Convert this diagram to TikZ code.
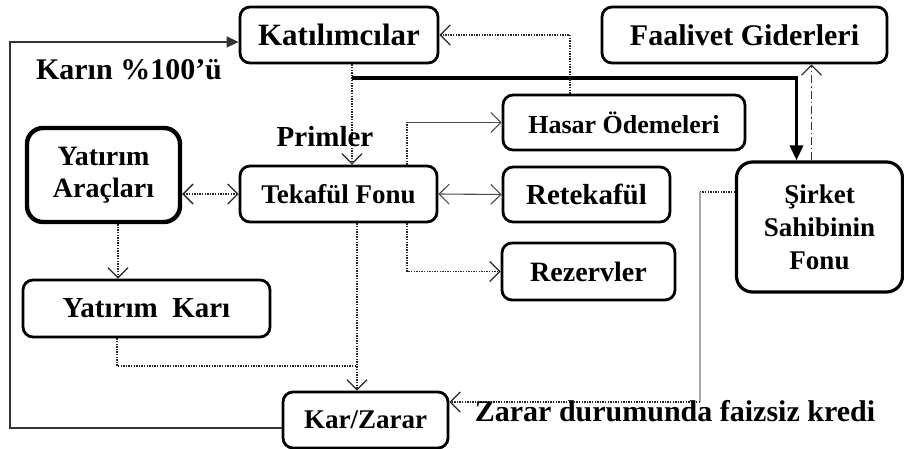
\documentclass[tikz,border=0pt]{standalone}
\usepackage{fontspec}
\setmainfont{Liberation Serif}
\usetikzlibrary{calc}
\usetikzlibrary{arrows.meta}
\usetikzlibrary{positioning}

\begin{document}
\begin{tikzpicture}[x=0.5pt,y=-0.5pt,
  kutu/.style={draw=black, line width=1.4pt, rounded corners=5pt, align=center, inner sep=0pt,
    font=\bfseries\fontsize{14}{16.5}\selectfont},
  nokta/.style={draw=black!85, line width=0.65pt, dash pattern=on 0.7pt off 0.6pt},
  ince/.style={draw=black!70, line width=0.55pt},
  yazi/.style={inner sep=0pt, font=\bfseries\fontsize{15}{17}\selectfont},
  >={Straight Barb[length=5pt,width=10pt]}]
  \useasboundingbox (0,0) rectangle (904,449);

  %% kutular
  \node[kutu, minimum width=99pt, minimum height=28pt, font=\bfseries\fontsize{15.5}{17}\selectfont] (katilim) at (339,35) {Katılımcılar};
  \node[kutu, minimum width=142.5pt, minimum height=28pt, font=\bfseries\fontsize{15}{17}\selectfont] (faaliyet) at (744.5,35) {Faalivet Giderleri};
  \node[kutu, minimum width=121pt, minimum height=27.5pt, font=\bfseries\fontsize{13}{15}\selectfont] (hasar) at (624,122.5) {Hasar Ödemeleri};
  \node[kutu, line width=2.2pt, rounded corners=8pt, minimum width=76.5pt, minimum height=47pt, font=\bfseries\fontsize{14}{16}\selectfont] (yatarac) at (103.5,175) {Yatırım\\Araçları};
  \node[kutu, minimum width=98.5pt, minimum height=28pt, font=\bfseries\fontsize{13.5}{16}\selectfont] (tekaful) at (338.5,194) {Tekafül Fonu};
  \node[kutu, minimum width=83.5pt, minimum height=27.5pt, font=\bfseries\fontsize{14.5}{16}\selectfont] (retekaful) at (586.5,194.5) {Retekafül};
  \node[kutu, line width=1.6pt, rounded corners=8pt, minimum width=83pt, minimum height=65pt, font=\bfseries\fontsize{13.5}{16.5}\selectfont] (sirket) at (819.5,227) {Şirket\\Sahibinin\\Fonu};
  \node[kutu, minimum width=86.5pt, minimum height=28.5pt] (rezerv) at (588.5,271.5) {Rezervler};
  \node[kutu, minimum width=123.5pt, minimum height=28.5pt, font=\bfseries\fontsize{14.5}{16}\selectfont] (yatkar) at (146.5,308.5) {Yatırım\ \ Karı};
  \node[kutu, minimum width=82.5pt, minimum height=28pt, font=\bfseries\fontsize{13.5}{16}\selectfont] (karzarar) at (365.5,420) {Kar/Zarar};

  %% sol geri dönüş
  \coordinate (solust) at (10,42);
  \draw[draw=black!80, line width=0.8pt, -{Triangle[length=6pt,width=5.5pt]}]
    ([yshift=-4pt]karzarar.west) -| (solust) -- (solust -| katilim.west);
  \node[yazi] (karin) at (129,70) {Karın \%100’ü};

  %% primler
  \draw[nokta, ->] ([xshift=6.5pt]katilim.south) -- ([xshift=6.5pt]katilim.south |- tekaful.north);
  \node[yazi, font=\bfseries\fontsize{14.5}{17}\selectfont] (primler) at (325,137) {Primler};

  %% kalın ok
  \coordinate (ayrim) at (352,78);
  \draw[line width=1.6pt, -{Triangle[length=7.5pt,width=6.5pt]}] (ayrim) -| ([xshift=-11.5pt]sirket.north);

  %% hasar -> katılımcılar
  \draw[nokta, ->] ([xshift=-27pt]hasar.north) |- (katilim.east);

  %% şirket -> faaliyet
  \draw[draw=black!80, line width=0.6pt, dash pattern=on 4pt off 1.5pt on 0.7pt off 1.5pt, ->]
    ([xshift=-4pt]sirket.north) -- ([xshift=-4pt]sirket.north |- faaliyet.south);

  %% tekafül fonu çıkışları
  \coordinate (hkose) at ([xshift=34.25pt]tekaful.north |- hasar.west);
  \draw[nokta] ([xshift=34.25pt]tekaful.north) -- (hkose);
  \draw[ince, ->] (hkose) -- (hasar.west);
  \draw[nokta, ->] ([xshift=34.25pt]tekaful.south) |- (rezerv.west);
  \draw[ince, <->] (tekaful.east) -- (retekaful.west);
  \draw[nokta, <->] (yatarac.east |- tekaful.west) -- (tekaful.west);
  \draw[nokta, ->] ([xshift=9.25pt]tekaful.south) -- ([xshift=9.25pt]tekaful.south |- karzarar.north);

  %% yatırım
  \draw[nokta, ->] ([xshift=7.25pt]yatarac.south) -- ([xshift=7.25pt]yatarac.south |- yatkar.north);
  \coordinate (birles) at (357,366);
  \draw[nokta] ([xshift=-14.75pt]yatkar.south) |- (birles);

  %% şirket -> kar/zarar
  \coordinate (kredi1) at (700,192);
  \coordinate (kredi2) at (700,402);
  \draw[nokta] ([yshift=17.5pt]sirket.west) -- (kredi1);
  \draw[draw=black!35, line width=1pt] (kredi1) -- (kredi2);
  \draw[nokta, ->] (kredi2) -- (kredi2 -| karzarar.east);
  \node[yazi] (kredi) at (675,411) {Zarar durumunda faizsiz kredi};
\end{tikzpicture}
\end{document}
